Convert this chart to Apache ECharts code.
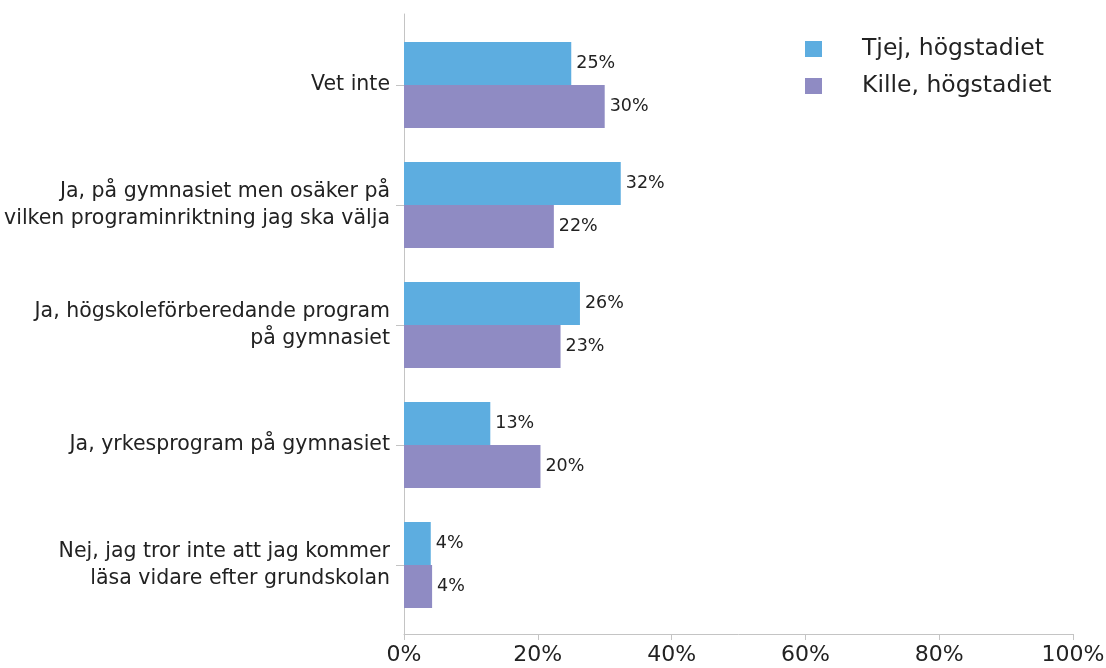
<!DOCTYPE html>
<html>
<head>
<meta charset="utf-8">
<script src="https://cdn.jsdelivr.net/npm/echarts@6/dist/echarts.min.js"></script>
<style>
  html, body { margin: 0; padding: 0; background: #fff; }
  #chart { width: 1106px; height: 668px; }
</style>
</head>
<body>
<div id="chart"></div>
<script>
// categories, top to bottom
var categories = [
  'Vet inte',
  'Ja, på gymnasiet men osäker på\nvilken programinriktning jag ska välja',
  'Ja, högskoleförberedande program\npå gymnasiet',
  'Ja, yrkesprogram på gymnasiet',
  'Nej, jag tror inte att jag kommer\nläsa vidare efter grundskolan'
];
var seriesNames = ['Tjej, högstadiet', 'Kille, högstadiet'];
var tjej = [25, 32.4, 26.3, 12.9, 4.0];
var kille = [30, 22.4, 23.4, 20.4, 4.2];
var xTicks = [0, 20, 40, 60, 80, 100];

var font = '"DejaVu Sans", sans-serif';
var axisGrey = '#c4c4c4';
var textCol = '#222';

var chart = echarts.init(document.getElementById('chart'));

function barLabel() {
  return {
    show: true,
    position: 'right',
    distance: 5,
    color: textCol,
    fontFamily: font,
    fontSize: 17.5,
    formatter: function (p) { return Math.round(p.value) + '%'; }
  };
}

chart.setOption({
  animation: false,
  legend: {
    data: seriesNames,
    orient: 'vertical',
    top: 32,
    left: 800,
    itemWidth: 17,
    itemHeight: 16,
    itemGap: 13,
    icon: 'rect',
    textStyle: { fontFamily: font, fontSize: 23.5, color: textCol, padding: [0, 0, 0, 35] }
  },
  grid: [
    { left: 404, right: 33, top: 14, bottom: 34, outerBoundsMode: 'none', containLabel: false },
    { left: 404, right: 33, top: 25, bottom: 43, outerBoundsMode: 'none', containLabel: false }
  ],
  xAxis: [
    {
      gridIndex: 0,
      type: 'value',
      min: xTicks[0],
      max: xTicks[xTicks.length - 1],
      interval: 20,
      axisLine: { show: true, lineStyle: { color: axisGrey } },
      axisTick: { show: true, length: 6, lineStyle: { color: axisGrey } },
      splitLine: { show: false },
      axisLabel: {
        color: textCol, fontFamily: font, fontSize: 22, margin: 10,
        formatter: function (v) { return v + '%'; }
      }
    },
    {
      gridIndex: 1,
      type: 'value',
      min: 0,
      max: 100,
      show: false
    }
  ],
  yAxis: [
    {
      gridIndex: 0,
      type: 'value',
      min: 0,
      max: 1,
      axisLine: { show: true, lineStyle: { color: axisGrey } },
      axisTick: { show: false },
      axisLabel: { show: false },
      splitLine: { show: false }
    },
    {
      gridIndex: 1,
      type: 'category',
      data: categories,
      inverse: true,
      axisLine: { show: false },
      axisTick: { show: true, alignWithLabel: true, length: 8, lineStyle: { color: axisGrey } },
      axisLabel: {
        color: textCol, fontFamily: font, fontSize: 20.5, lineHeight: 27, margin: 14, align: 'right'
      }
    }
  ],
  series: [
    {
      name: seriesNames[0],
      type: 'bar',
      xAxisIndex: 1,
      yAxisIndex: 1,
      data: tjej,
      barWidth: 43,
      barGap: '0%',
      itemStyle: { color: '#5dade0' },
      label: barLabel()
    },
    {
      name: seriesNames[1],
      type: 'bar',
      xAxisIndex: 1,
      yAxisIndex: 1,
      data: kille,
      barWidth: 43,
      barGap: '0%',
      itemStyle: { color: '#8f8bc3' },
      label: barLabel()
    }
  ]
});
</script>
</body>
</html>
